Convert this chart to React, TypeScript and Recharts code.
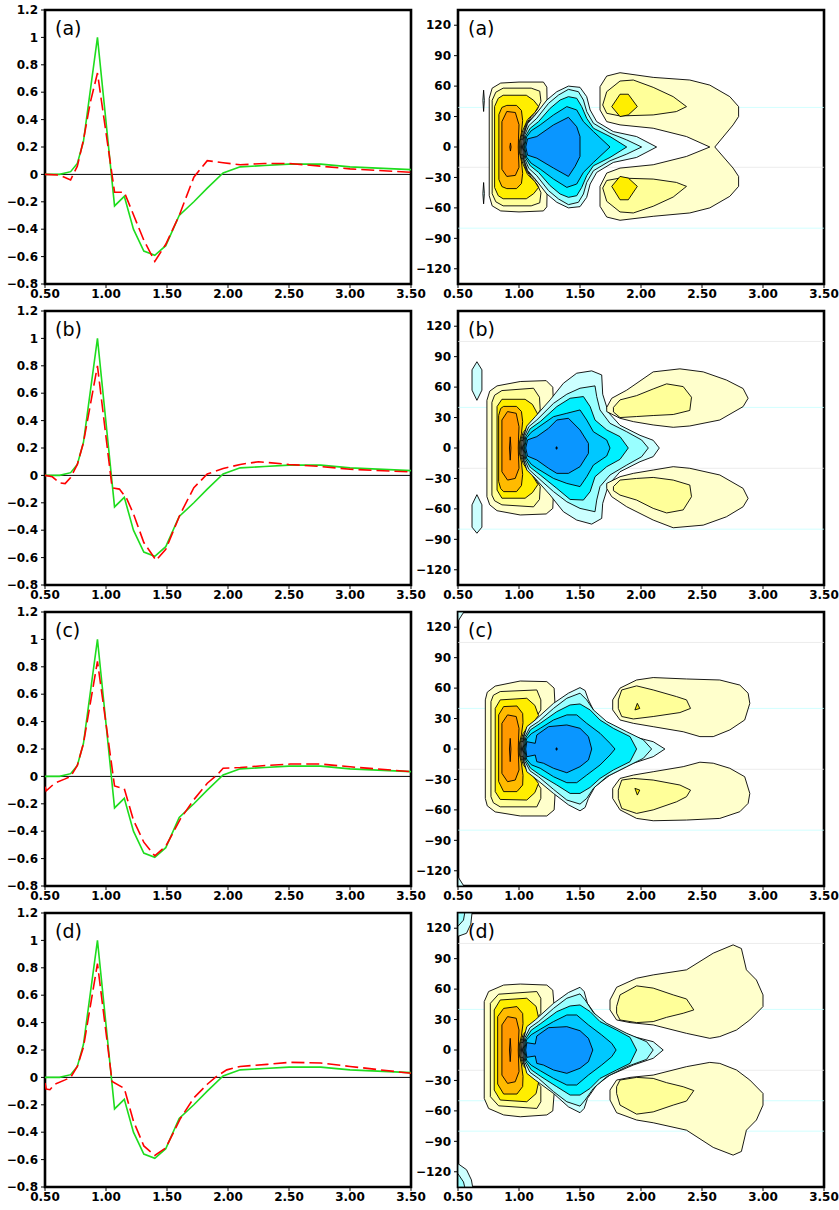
import React from 'react';
import { ComposedChart, Line, XAxis, YAxis, ReferenceLine, ReferenceArea } from 'recharts';

type P = [number, number];
type Shape = { level: number; pts: P[] };

// ---------- axes / labels ----------
const X_TICKS = [0.5, 1, 1.5, 2, 2.5, 3, 3.5];
const Y_TICKS_LINE = [-0.8, -0.6, -0.4, -0.2, 0, 0.2, 0.4, 0.6, 0.8, 1, 1.2];
const Y_TICKS_LAT = [-120, -90, -60, -30, 0, 30, 60, 90, 120];
const PANEL_LABELS = ['(a)', '(b)', '(c)', '(d)'];

// ---------- left column: line series ----------
const GREEN: P[] = [
  [0.5, 0], [0.62, 0], [0.71, 0.02], [0.765, 0.08], [0.815, 0.24], [0.93, 1.0], [1.07, -0.23],
  [1.15, -0.16], [1.225, -0.4], [1.31, -0.56], [1.4, -0.59], [1.49, -0.52], [1.6, -0.3], [1.72, -0.2],
  [1.83, -0.1], [1.96, 0.01], [2.1, 0.055], [2.3, 0.065], [2.5, 0.075], [2.76, 0.075], [3.0, 0.055], [3.5, 0.035],
];
const RED_A: P[] = [
  [0.5, 0], [0.62, -0.005], [0.71, -0.04], [0.765, 0.06], [0.815, 0.25], [0.87, 0.52], [0.93, 0.74],
  [1.07, -0.13], [1.15, -0.13], [1.31, -0.48], [1.4, -0.635], [1.49, -0.51], [1.6, -0.3], [1.72, -0.02],
  [1.83, 0.1], [1.96, 0.085], [2.1, 0.07], [2.3, 0.08], [2.5, 0.08], [2.76, 0.06], [3.0, 0.04], [3.5, 0.015],
];
const RED_B: P[] = [
  [0.5, 0], [0.56, -0.01], [0.62, -0.055], [0.665, -0.06], [0.71, -0.015], [0.765, 0.08], [0.815, 0.24],
  [0.93, 0.8], [1.05, -0.09], [1.11, -0.1], [1.17, -0.17], [1.225, -0.28], [1.31, -0.49], [1.41, -0.62],
  [1.49, -0.54], [1.61, -0.28], [1.72, -0.09], [1.83, 0.01], [1.96, 0.05], [2.1, 0.08], [2.25, 0.1],
  [2.5, 0.08], [2.76, 0.065], [3.0, 0.045], [3.5, 0.025],
];
const RED_C: P[] = [
  [0.5, -0.075], [0.51, -0.105], [0.58, -0.05], [0.66, -0.02], [0.71, 0.0], [0.765, 0.08], [0.815, 0.24],
  [0.93, 0.84], [1.07, -0.07], [1.15, -0.09], [1.225, -0.32], [1.31, -0.48], [1.4, -0.58], [1.49, -0.51],
  [1.61, -0.31], [1.72, -0.17], [1.83, -0.05], [1.91, 0.01], [1.96, 0.06], [2.1, 0.065], [2.32, 0.08],
  [2.51, 0.09], [2.76, 0.09], [3.0, 0.07], [3.5, 0.035],
];
const RED_D: P[] = [
  [0.5, -0.04], [0.51, -0.085], [0.54, -0.09], [0.58, -0.05], [0.66, -0.02], [0.71, 0.0], [0.765, 0.08],
  [0.815, 0.22], [0.93, 0.83], [1.05, -0.03], [1.15, -0.08], [1.225, -0.32], [1.31, -0.5], [1.4, -0.57],
  [1.49, -0.515], [1.61, -0.3], [1.72, -0.15], [1.83, -0.05], [1.91, 0.01], [1.99, 0.055], [2.1, 0.08],
  [2.32, 0.095], [2.51, 0.11], [2.76, 0.105], [3.0, 0.08], [3.5, 0.03],
];
const REDS = [RED_A, RED_B, RED_C, RED_D];

// ---------- right column: contour polygons (level: + warm, - cool) ----------
const CONTOUR_A: Shape[] = [
  { level: -1, pts: [[0.71, 56], [0.716, 46], [0.71, 35], [0.704, 46]] },
  { level: -1, pts: [[0.71, -35], [0.716, -46], [0.71, -56], [0.704, -46]] },
  { level: 1, pts: [[0.756, 48], [0.78, 58], [0.85, 63], [1.0, 64], [1.2, 64], [1.228, 59], [1.23, 46], [1.2, 40], [1.13, 32], [1.07, 24], [1.045, 15], [1.025, 6], [1.02, 0], [1.025, -6], [1.045, -15], [1.07, -24], [1.13, -32], [1.2, -40], [1.23, -46], [1.228, -59], [1.2, -63], [1.0, -64], [0.85, -63], [0.78, -58], [0.756, -48]] },
  { level: 2, pts: [[0.78, 46], [0.81, 54], [0.87, 58], [1.1, 58], [1.17, 55], [1.18, 45], [1.15, 37], [1.1, 30], [1.06, 23], [1.035, 14], [1.017, 6], [1.013, 0], [1.017, -6], [1.035, -14], [1.06, -23], [1.1, -30], [1.15, -37], [1.18, -45], [1.17, -55], [1.1, -58], [0.87, -58], [0.81, -54], [0.78, -46]] },
  { level: 3, pts: [[0.8, 40], [0.83, 48], [0.87, 51], [1.06, 51], [1.12, 46], [1.16, 40], [1.13, 34], [1.07, 27], [1.03, 16], [1.01, 6], [1.006, 0], [1.01, -6], [1.03, -16], [1.07, -27], [1.13, -34], [1.16, -40], [1.12, -46], [1.06, -51], [0.87, -51], [0.83, -48], [0.8, -40]] },
  { level: 4, pts: [[0.835, 32], [0.86, 39], [0.9, 41], [0.98, 41], [1.02, 36], [1.03, 26], [1.02, 14], [1.003, 5], [1.0, 0], [1.003, -5], [1.02, -14], [1.03, -26], [1.02, -36], [0.98, -41], [0.9, -41], [0.86, -39], [0.835, -32]] },
  { level: 5, pts: [[0.86, 25], [0.9, 35], [0.97, 34], [1.0, 22], [0.996, 8], [0.994, 0], [0.996, -8], [1.0, -20], [0.97, -28], [0.9, -29], [0.86, -22]] },
  { level: 6, pts: [[0.93, 4], [0.935, 0], [0.93, -4], [0.925, 0]] },
  { level: -1, pts: [[1.028, 0], [1.04, 12], [1.07, 23], [1.133, 31.6], [1.228, 46.3], [1.31, 54.5], [1.405, 60], [1.5, 58.8], [1.555, 49.6], [1.583, 36.5], [1.637, 25], [1.773, 15.2], [1.964, 10.3], [2.128, 0], [1.964, -10.3], [1.773, -15.2], [1.637, -25], [1.583, -36.5], [1.555, -49.6], [1.5, -58.8], [1.405, -60], [1.31, -54.5], [1.228, -46.3], [1.133, -31.6], [1.07, -23], [1.04, -12]] },
  { level: -2, pts: [[1.034, 0], [1.048, 12], [1.08, 21], [1.146, 28.3], [1.242, 43], [1.324, 51.2], [1.405, 56.8], [1.487, 54.5], [1.528, 46.3], [1.555, 34.9], [1.61, 23.4], [1.746, 13.6], [1.883, 7], [2.005, 0], [1.883, -7], [1.746, -13.6], [1.61, -23.4], [1.555, -34.9], [1.528, -46.3], [1.487, -54.5], [1.405, -56.8], [1.324, -51.2], [1.242, -43], [1.146, -28.3], [1.08, -21], [1.048, -12]] },
  { level: -3, pts: [[1.04, 0], [1.055, 11], [1.092, 18.5], [1.16, 25], [1.255, 38.1], [1.337, 46.3], [1.405, 49.6], [1.473, 48], [1.514, 39.8], [1.555, 28.3], [1.61, 18.5], [1.746, 10.3], [1.883, 0], [1.746, -10.3], [1.61, -18.5], [1.555, -28.3], [1.514, -39.8], [1.473, -48], [1.405, -49.6], [1.337, -46.3], [1.255, -38.1], [1.16, -25], [1.092, -18.5], [1.055, -11]] },
  { level: -4, pts: [[1.046, 0], [1.062, 10], [1.1, 16], [1.174, 21.8], [1.283, 31.6], [1.392, 39.8], [1.473, 36.5], [1.528, 25], [1.61, 15.2], [1.746, 0], [1.61, -15.2], [1.528, -25], [1.473, -36.5], [1.392, -39.8], [1.283, -31.6], [1.174, -21.8], [1.1, -16], [1.062, -10]] },
  { level: -5, pts: [[1.055, 0], [1.07, 8], [1.146, 10.3], [1.283, 21.8], [1.405, 29.3], [1.473, 20], [1.5, 10.3], [1.5, -9.3], [1.46, -19], [1.405, -29], [1.283, -20.8], [1.146, -11], [1.07, -8]] },
  { level: 1, pts: [[1.664, 36.5], [1.664, 59.4], [1.719, 69.9], [1.828, 73.2], [2.1, 68.6], [2.4, 66], [2.564, 61], [2.728, 49.6], [2.8, 39.8], [2.8, 30], [2.755, 21.8], [2.605, 0], [2.755, -20.8], [2.8, -29], [2.8, -38.8], [2.728, -48.6], [2.564, -60], [2.4, -65], [2.1, -68.3], [1.828, -72.2], [1.719, -69], [1.664, -58.4], [1.664, -38.8], [1.719, -25.7], [1.828, -20.8], [2.1, -17.5], [2.373, -9.3], [2.564, 0], [2.373, 10.3], [2.1, 18.5], [1.828, 21.8], [1.719, 25]] },
  { level: 2, pts: [[1.686, 41.4], [1.719, 54.5], [1.828, 65], [1.937, 66], [2.1, 58.8], [2.264, 49.6], [2.373, 39.8], [2.29, 34.9], [2.1, 31.6], [1.828, 30.6], [1.719, 33.2]] },
  { level: 2, pts: [[1.686, -40.4], [1.719, -53.5], [1.828, -64], [1.937, -65], [2.1, -58.4], [2.264, -49.3], [2.373, -38.8], [2.29, -34.9], [2.1, -31.6], [1.828, -30.6], [1.719, -33]] },
  { level: 3, pts: [[1.76, 39.8], [1.828, 52], [1.896, 52], [1.97, 39.8], [1.896, 31.6], [1.828, 30]] },
  { level: 3, pts: [[1.76, -38.8], [1.828, -52], [1.896, -52], [1.97, -38.8], [1.896, -30.6], [1.828, -29]] },
];

const CONTOUR_B: Shape[] = [
  { level: -1, pts: [[0.655, 85], [0.696, 77], [0.696, 57], [0.655, 47], [0.615, 57], [0.615, 77]] },
  { level: -1, pts: [[0.655, -46], [0.696, -56], [0.696, -78], [0.655, -84], [0.615, -78], [0.615, -56]] },
  { level: 1, pts: [[0.737, 47], [0.76, 56], [0.82, 61.2], [1.01, 65.5], [1.223, 66.4], [1.277, 59.9], [1.283, 40.8], [1.242, 30.9], [1.133, 24.3], [1.078, 19.4], [1.045, 13], [1.025, 6], [1.02, 0], [1.025, -6], [1.045, -13], [1.078, -20], [1.133, -25], [1.242, -31.6], [1.283, -41.4], [1.277, -59.5], [1.223, -65], [1.01, -66], [0.82, -61.8], [0.76, -56], [0.737, -48]] },
  { level: 2, pts: [[0.778, 45], [0.8, 52], [0.86, 56.6], [1.119, 58.9], [1.168, 50], [1.174, 37.5], [1.133, 29.3], [1.086, 22.7], [1.04, 14], [1.017, 6], [1.013, 0], [1.017, -6], [1.04, -14], [1.086, -23.4], [1.133, -30], [1.174, -38], [1.168, -50.7], [1.119, -58], [0.86, -56], [0.8, -52], [0.778, -46.4]] },
  { level: 3, pts: [[0.82, 40.8], [0.86, 48], [1.05, 48], [1.11, 43], [1.155, 33], [1.11, 26.5], [1.07, 21], [1.033, 15], [1.01, 6], [1.006, 0], [1.01, -6], [1.033, -15], [1.07, -21.7], [1.11, -27], [1.155, -36], [1.11, -44], [1.05, -49.5], [0.86, -49.5], [0.82, -41.4]] },
  { level: 4, pts: [[0.833, 32], [0.85, 39], [0.874, 41], [0.98, 41], [1.02, 36], [1.03, 26], [1.02, 14], [1.003, 5], [1.0, 0], [1.003, -5], [1.02, -14], [1.03, -26], [1.02, -37], [0.98, -43], [0.874, -43], [0.85, -40], [0.833, -33]] },
  { level: 5, pts: [[0.86, 27.6], [0.906, 35.9], [0.977, 34.2], [1.0, 21], [0.996, 8], [0.994, 0], [0.996, -8], [1.0, -20], [0.969, -30], [0.906, -31.6], [0.86, -23.4]] },
  { level: 6, pts: [[0.928, 11], [0.934, 0], [0.928, -12], [0.922, 0]] },
  { level: -1, pts: [[1.028, 0], [1.04, 12], [1.064, 21.7], [1.133, 30.9], [1.255, 47.4], [1.364, 63.8], [1.473, 73.7], [1.596, 76], [1.678, 72], [1.686, 53], [1.733, 35], [1.828, 22.4], [1.992, 12.5], [2.1, 7.6], [2.15, 0], [2.1, -8.5], [1.992, -13.5], [1.828, -23.4], [1.733, -36.5], [1.686, -54.6], [1.678, -69.4], [1.596, -75], [1.473, -71], [1.364, -62.8], [1.255, -46.4], [1.133, -30], [1.064, -21.7], [1.04, -12]] },
  { level: -2, pts: [[1.034, 0], [1.048, 12], [1.08, 21], [1.146, 27.6], [1.283, 44], [1.392, 53], [1.5, 58.9], [1.623, 61.2], [1.637, 50.7], [1.664, 37.5], [1.746, 24.3], [1.883, 16], [2.005, 7.9], [2.06, 0], [2.005, -8.6], [1.883, -16.8], [1.746, -26.6], [1.664, -38], [1.637, -51.3], [1.623, -62.8], [1.5, -59.5], [1.392, -53], [1.283, -43], [1.146, -28.3], [1.08, -21], [1.048, -12]] },
  { level: -3, pts: [[1.04, 0], [1.055, 11], [1.092, 19], [1.174, 26], [1.31, 40.8], [1.419, 49], [1.528, 50.7], [1.583, 40.8], [1.623, 27.6], [1.719, 17.8], [1.828, 11.2], [1.896, 0], [1.828, -11.2], [1.719, -18.4], [1.623, -28.3], [1.583, -43], [1.528, -51.3], [1.419, -50.7], [1.31, -39.8], [1.174, -26.6], [1.092, -19], [1.055, -11]] },
  { level: -4, pts: [[1.046, 0], [1.062, 10], [1.1, 15.5], [1.146, 19.4], [1.283, 30.9], [1.392, 34.2], [1.5, 37.5], [1.555, 27.6], [1.61, 16], [1.719, 7.9], [1.746, 0], [1.719, -7.9], [1.61, -16.8], [1.555, -28.3], [1.5, -38], [1.392, -34.9], [1.283, -30], [1.146, -20], [1.1, -16], [1.062, -10]] },
  { level: -5, pts: [[1.055, 0], [1.07, 8], [1.146, 11.2], [1.242, 19.4], [1.31, 27.6], [1.405, 29.3], [1.5, 17.8], [1.569, 4.6], [1.569, -5.3], [1.5, -18.4], [1.405, -25], [1.31, -25], [1.242, -20], [1.146, -11.8], [1.07, -8]] },
  { level: -9, pts: [[1.308, 1.3], [1.314, 0], [1.308, -1.3], [1.302, 0]] },
  { level: 1, pts: [[1.719, 40], [1.76, 49], [1.883, 57], [2.1, 75], [2.319, 78], [2.51, 75], [2.7, 67], [2.837, 58.6], [2.878, 49], [2.837, 40.8], [2.646, 27.6], [2.4, 21.7], [2.264, 20.4], [2.1, 22.7], [1.937, 26], [1.828, 29.3], [1.719, 35.9]] },
  { level: 1, pts: [[1.719, -39.8], [1.76, -48], [1.883, -57.9], [2.1, -71], [2.264, -78.6], [2.51, -76], [2.7, -67.8], [2.837, -57.9], [2.878, -49.7], [2.837, -39.8], [2.646, -26.6], [2.4, -20], [2.264, -18.4], [2.1, -21.7], [1.937, -25], [1.828, -28.3], [1.719, -34.9]] },
  { level: 2, pts: [[1.774, 40], [1.828, 47.4], [1.964, 51.6], [2.1, 58.2], [2.21, 63.2], [2.346, 60.5], [2.414, 50], [2.4, 37], [2.264, 33], [2.1, 32], [1.964, 31], [1.828, 30], [1.774, 35.5]] },
  { level: 2, pts: [[1.774, -38], [1.828, -31.6], [1.964, -30], [2.1, -29], [2.264, -31.6], [2.4, -36.5], [2.414, -48], [2.346, -61], [2.21, -64], [2.1, -59.5], [1.964, -51.3], [1.828, -46.4], [1.774, -42]] },
];

const CONTOUR_C: Shape[] = [
  { level: -1, pts: [[0.5, 135], [0.548, 135], [0.5, 126]] },
  { level: -1, pts: [[0.5, -126], [0.548, -135], [0.5, -135]] },
  { level: 1, pts: [[0.724, 48.4], [0.74, 56], [0.805, 62], [1.01, 67], [1.228, 66.4], [1.288, 60], [1.296, 41.8], [1.255, 32.6], [1.146, 25.3], [1.078, 20.4], [1.045, 13], [1.025, 6], [1.02, 0], [1.025, -6], [1.045, -13], [1.078, -20.7], [1.146, -25.7], [1.255, -33.9], [1.296, -43.8], [1.288, -60], [1.228, -66], [1.01, -66], [0.805, -62], [0.74, -56], [0.724, -48.7]] },
  { level: 2, pts: [[0.77, 46.7], [0.79, 53], [0.846, 56.6], [1.146, 58.2], [1.179, 48.4], [1.179, 38.5], [1.133, 30.3], [1.078, 22.7], [1.04, 14], [1.017, 6], [1.013, 0], [1.017, -6], [1.04, -14], [1.078, -22.4], [1.133, -30.6], [1.179, -38.8], [1.179, -48.7], [1.146, -57], [0.846, -57], [0.79, -53], [0.77, -47]] },
  { level: 3, pts: [[0.805, 40], [0.846, 48.4], [1.064, 50], [1.13, 43], [1.16, 33], [1.115, 26], [1.07, 21.4], [1.033, 15], [1.01, 6], [1.006, 0], [1.01, -6], [1.033, -15], [1.07, -21.4], [1.115, -26.6], [1.16, -34], [1.13, -43], [1.064, -50.3], [0.846, -49.7], [0.805, -42]] },
  { level: 4, pts: [[0.833, 33.6], [0.874, 41.8], [0.983, 42.4], [1.03, 35], [1.033, 26], [1.02, 14], [1.003, 5], [1.0, 0], [1.003, -5], [1.02, -14], [1.033, -26], [1.03, -35.5], [0.983, -42], [0.874, -42], [0.833, -32]] },
  { level: 5, pts: [[0.86, 25.3], [0.906, 33.6], [0.977, 32], [1.0, 20.4], [0.996, 8], [0.994, 0], [0.996, -8], [1.0, -20.7], [0.969, -30.6], [0.906, -32.2], [0.86, -24]] },
  { level: 6, pts: [[0.928, 10.5], [0.934, 0], [0.928, -12.5], [0.922, 0]] },
  { level: -1, pts: [[1.028, 0], [1.04, 12], [1.064, 22], [1.133, 28.6], [1.283, 45], [1.405, 55], [1.5, 60.5], [1.542, 57.6], [1.569, 48.4], [1.623, 35.2], [1.746, 22], [1.937, 12.2], [2.1, 7.2], [2.196, 0], [2.1, -7.6], [1.937, -14], [1.746, -25.7], [1.623, -37], [1.569, -48.7], [1.542, -57.6], [1.5, -60.9], [1.405, -55], [1.283, -43.8], [1.133, -28.9], [1.064, -22.4], [1.04, -12]] },
  { level: -2, pts: [[1.034, 0], [1.048, 12], [1.09, 21.5], [1.16, 27], [1.283, 40], [1.392, 50], [1.5, 55], [1.555, 48.4], [1.61, 38.5], [1.719, 27], [1.883, 17], [2.019, 9], [2.087, 0], [2.019, -9.2], [1.883, -17.4], [1.719, -27.3], [1.61, -38.8], [1.555, -48.7], [1.5, -54.3], [1.392, -50.3], [1.283, -39.8], [1.16, -27.3], [1.09, -21.5], [1.048, -12]] },
  { level: -3, pts: [[1.04, 0], [1.055, 11], [1.095, 19], [1.174, 25.3], [1.31, 36.8], [1.419, 43.4], [1.5, 44.4], [1.583, 38.5], [1.664, 28.6], [1.773, 20.4], [1.91, 12.2], [1.964, 0], [1.91, -12.5], [1.773, -20.7], [1.664, -29], [1.583, -37.8], [1.5, -43.8], [1.419, -43.8], [1.31, -35.5], [1.174, -25.7], [1.095, -19], [1.055, -11]] },
  { level: -4, pts: [[1.046, 0], [1.062, 10], [1.1, 15], [1.174, 20.4], [1.283, 28.6], [1.392, 33.6], [1.473, 33.6], [1.555, 25.3], [1.664, 15.5], [1.746, 5.6], [1.787, 0], [1.746, -5.9], [1.664, -15.8], [1.555, -25.7], [1.473, -33.2], [1.392, -33.2], [1.283, -27.3], [1.174, -19], [1.1, -15.5], [1.062, -10]] },
  { level: -5, pts: [[1.055, 0], [1.064, 7.2], [1.133, 5.6], [1.146, 13.8], [1.242, 22], [1.392, 23.7], [1.5, 20.4], [1.569, 12.2], [1.596, 0], [1.569, -10.9], [1.5, -17.4], [1.392, -23.4], [1.283, -19], [1.2, -14], [1.146, -12.5], [1.133, -5.9], [1.064, -7.6]] },
  { level: -9, pts: [[1.308, 1.3], [1.314, 0], [1.308, -1.3], [1.302, 0]] },
  { level: 1, pts: [[1.768, 48.4], [1.828, 60], [1.964, 68], [2.1, 70.4], [2.373, 69], [2.646, 68], [2.81, 63], [2.878, 55], [2.892, 45], [2.85, 28.6], [2.728, 18.8], [2.592, 12.2], [2.483, 12.2], [2.346, 17], [2.1, 22], [1.937, 25.3], [1.828, 28.6], [1.768, 38.5]] },
  { level: 1, pts: [[1.768, -48.7], [1.828, -60], [1.964, -68.4], [2.1, -70.7], [2.373, -70], [2.646, -68.4], [2.81, -61.8], [2.878, -53.6], [2.892, -43.8], [2.85, -27.3], [2.728, -19], [2.592, -14], [2.483, -13], [2.346, -17.4], [2.1, -22.4], [1.937, -25.7], [1.828, -29], [1.768, -38.8]] },
  { level: 2, pts: [[1.814, 48.4], [1.842, 58.2], [1.964, 62.2], [2.1, 58.2], [2.292, 51.6], [2.373, 48.4], [2.406, 40], [2.319, 35.9], [2.1, 32], [1.937, 29.6], [1.842, 32], [1.814, 40]] },
  { level: 2, pts: [[1.814, -48.7], [1.842, -58.6], [1.964, -63.5], [2.1, -60], [2.292, -52], [2.373, -47], [2.406, -40.5], [2.319, -35.5], [2.1, -30.6], [1.937, -29], [1.842, -30.6], [1.814, -40.5]] },
  { level: 3, pts: [[1.95, 38.5], [1.97, 45], [1.99, 40]] },
  { level: 3, pts: [[1.95, -38.8], [1.97, -45.4], [1.99, -40.5]] },
];

const CONTOUR_D: Shape[] = [
  { level: -1, pts: [[0.5, 135], [0.615, 135], [0.605, 124], [0.57, 115], [0.5, 112]] },
  { level: -2, pts: [[0.5, 135], [0.555, 135], [0.545, 128], [0.5, 122]] },
  { level: -1, pts: [[0.5, -112], [0.57, -118], [0.61, -128], [0.62, -135], [0.5, -135]] },
  { level: -2, pts: [[0.5, -122], [0.545, -130], [0.555, -135], [0.5, -135]] },
  { level: 1, pts: [[0.715, 47.7], [0.751, 57.6], [0.874, 64], [1.01, 65], [1.228, 64], [1.277, 59], [1.288, 42.8], [1.255, 31.3], [1.146, 25.7], [1.078, 21.4], [1.045, 13], [1.025, 6], [1.02, 0], [1.025, -6], [1.045, -13], [1.078, -21.4], [1.146, -26.3], [1.255, -32.9], [1.288, -42.8], [1.277, -60], [1.228, -64], [1.01, -65.8], [0.874, -64], [0.751, -57.6], [0.715, -47.7]] },
  { level: 2, pts: [[0.765, 46], [0.833, 55], [1.146, 57.6], [1.179, 51], [1.179, 36], [1.133, 29.6], [1.078, 23], [1.04, 14], [1.017, 6], [1.013, 0], [1.017, -6], [1.04, -14], [1.078, -23], [1.133, -29.6], [1.179, -36], [1.179, -51], [1.146, -57.6], [0.833, -55], [0.765, -46]] },
  { level: 3, pts: [[0.797, 39.5], [0.846, 49.3], [1.064, 51], [1.14, 43], [1.16, 32], [1.115, 25.7], [1.07, 20.4], [1.033, 15], [1.01, 6], [1.006, 0], [1.01, -6], [1.033, -15], [1.07, -20.4], [1.115, -25.7], [1.16, -32], [1.14, -43], [1.064, -51], [0.846, -49.3], [0.797, -39.5]] },
  { level: 4, pts: [[0.825, 32.9], [0.874, 41], [0.983, 42.8], [1.03, 36], [1.033, 26], [1.02, 14], [1.003, 5], [1.0, 0], [1.003, -5], [1.02, -14], [1.033, -26], [1.03, -36], [0.983, -43.4], [0.874, -43.4], [0.825, -33.5]] },
  { level: 5, pts: [[0.86, 24.7], [0.906, 32.9], [0.977, 31.3], [1.0, 19.7], [0.996, 8], [0.994, 0], [0.996, -8], [1.0, -21.4], [0.969, -31.3], [0.906, -32.9], [0.86, -24.7]] },
  { level: 6, pts: [[0.928, 11.5], [0.934, 0], [0.928, -11.5], [0.922, 0]] },
  { level: -1, pts: [[1.028, 0], [1.04, 12], [1.064, 23], [1.133, 29.6], [1.283, 46], [1.405, 56.6], [1.5, 61.8], [1.534, 57.6], [1.561, 46], [1.637, 32.9], [1.746, 23], [1.937, 13.2], [2.1, 8.2], [2.182, 0], [2.1, -8.2], [1.937, -14.8], [1.746, -24.7], [1.637, -34.5], [1.561, -47.7], [1.534, -57.6], [1.5, -61.8], [1.405, -56], [1.283, -42.8], [1.133, -29.6], [1.064, -23], [1.04, -12]] },
  { level: -2, pts: [[1.034, 0], [1.048, 12], [1.09, 22], [1.16, 28], [1.283, 41], [1.392, 51], [1.5, 55.3], [1.542, 49.3], [1.61, 36.8], [1.719, 26.3], [1.883, 16.4], [2.046, 8.2], [2.1, 0], [2.046, -9.2], [1.883, -16.4], [1.719, -26.3], [1.61, -37.8], [1.542, -49.3], [1.5, -55.3], [1.392, -51], [1.283, -41], [1.16, -28], [1.09, -22], [1.048, -12]] },
  { level: -3, pts: [[1.04, 0], [1.055, 11], [1.1, 19.5], [1.174, 25.7], [1.31, 37.8], [1.419, 43.4], [1.5, 44.4], [1.583, 37.8], [1.664, 28], [1.8, 19.7], [1.91, 12.5], [1.964, 0], [1.91, -13.2], [1.8, -19.7], [1.664, -28], [1.583, -37.8], [1.5, -44.4], [1.419, -44.4], [1.31, -36.2], [1.174, -25.7], [1.1, -19.5], [1.055, -11]] },
  { level: -4, pts: [[1.046, 0], [1.062, 10], [1.1, 15], [1.174, 20.4], [1.283, 28], [1.392, 34.5], [1.473, 34.5], [1.569, 24.7], [1.678, 14.8], [1.76, 6.6], [1.796, 0], [1.76, -6.6], [1.678, -14.8], [1.569, -24.7], [1.473, -34.5], [1.392, -34.5], [1.283, -28], [1.174, -20.4], [1.1, -15], [1.062, -10]] },
  { level: -5, pts: [[1.055, 0], [1.064, 7.2], [1.133, 5.9], [1.146, 13.8], [1.242, 22], [1.392, 23], [1.5, 19], [1.569, 11.5], [1.605, 0], [1.569, -11.5], [1.5, -18], [1.392, -23], [1.283, -19.7], [1.2, -14.8], [1.146, -13.2], [1.133, -5.9], [1.064, -7.2]] },
  { level: 1, pts: [[1.746, 49.3], [1.8, 61.8], [1.964, 70.7], [2.1, 74], [2.373, 79], [2.592, 95.4], [2.755, 103.6], [2.823, 100], [2.864, 79], [2.946, 69], [3.0, 54.3], [3.0, 42.8], [2.892, 29.6], [2.783, 19.7], [2.646, 13.2], [2.564, 11.5], [2.373, 16.4], [2.1, 24.7], [1.91, 27], [1.8, 29.6], [1.746, 39.5]] },
  { level: 1, pts: [[1.746, -49.3], [1.8, -61.8], [1.964, -69], [2.1, -71.7], [2.373, -79], [2.592, -96], [2.755, -103.6], [2.823, -100], [2.864, -79], [2.946, -69], [3.0, -54.3], [3.0, -42.8], [2.892, -29.6], [2.783, -19.7], [2.646, -13.2], [2.564, -12.2], [2.373, -16.4], [2.1, -24.7], [1.91, -27], [1.8, -29.6], [1.746, -39.5]] },
  { level: 2, pts: [[1.8, 42.8], [1.828, 54.3], [1.964, 63.2], [2.1, 61], [2.264, 54.3], [2.373, 50.3], [2.433, 39.5], [2.346, 36.2], [2.21, 32.2], [2.1, 28], [1.964, 27], [1.828, 29.6], [1.8, 36.2]] },
  { level: 2, pts: [[1.8, -42.8], [1.828, -54.3], [1.964, -63.2], [2.1, -61], [2.264, -54.3], [2.373, -50.3], [2.433, -40], [2.346, -36.2], [2.21, -32.2], [2.1, -28], [1.964, -27], [1.828, -29.6], [1.8, -36.2]] },
];
const CONTOURS = [CONTOUR_A, CONTOUR_B, CONTOUR_C, CONTOUR_D];

// faint horizontal streaks visible in the right panels (y, tone)
const STREAKS: [number, string][][] = [
  [[39, 'c'], [-20, 'g'], [-80, 'c']],
  [[40, 'c'], [-20, 'g'], [-80, 'c'], [105, 'g']],
  [[40, 'c'], [-20, 'g'], [-80, 'c'], [105, 'g']],
  [[40, 'c'], [-20, 'g'], [-50, 'c'], [-80, 'c'], [105, 'g']],
];

// ---------- styles ----------
const LEVEL_COLORS: Record<string, string> = {
  '1': '#FFFFCC', '2': '#FFFF99', '3': '#FFEE00', '4': '#FFBB00', '5': '#FF9900', '6': '#FF7F00',
  '-1': '#CCFFFF', '-2': '#99FFFF', '-3': '#00F0FF', '-4': '#00C8FF', '-5': '#0A96FF', '-9': '#000000',
};
const ROW_TOPS = [0, 301, 602, 903];
const TICK = { fontFamily: 'DejaVu Sans', fontWeight: 'bold', fontSize: 12, fill: '#000' } as any;
const LABEL_STYLE: React.CSSProperties = {
  position: 'absolute', fontFamily: 'DejaVu Sans', fontSize: 19, lineHeight: '19px', color: '#000', top: 19,
};

const toXY = (pts: P[]) => pts.map(([x, y]) => ({ x, y }));
const closed = (pts: P[]) => toXY([...pts, pts[0]]);
const fmtX = (v: number) => v.toFixed(2);
const fmtYL = (v: number) => (v < 0 ? '\u2212' : '') + String(Math.round(Math.abs(v) * 10) / 10);
const fmtYR = (v: number) => (v < 0 ? '\u2212' : '') + String(Math.abs(v));

const polygonDot = (fill: string) => (props: any) => {
  const { index, points } = props;
  if (index !== 0 || !points || !points.length) return <g key={`e${index}`} />;
  const d = points.map((p: any, i: number) => `${i ? 'L' : 'M'}${p.x},${p.y}`).join('') + 'Z';
  return <path key="poly" d={d} fill={fill} stroke="#000" strokeWidth={0.9} strokeLinejoin="round" />;
};

function LinePanel({ idx }: { idx: number }) {
  return (
    <div style={{ position: 'absolute', left: 0, top: ROW_TOPS[idx], width: 430, height: 300 }}>
      <ComposedChart width={430} height={300} margin={{ top: 10, right: 19, bottom: 0, left: 0 }}>
        <XAxis type="number" dataKey="x" domain={[0.5, 3.5]} ticks={X_TICKS} interval={0} tickFormatter={fmtX}
          tick={TICK} tickSize={4} tickMargin={1} axisLine={false} tickLine={{ stroke: '#000' }} height={16} allowDataOverflow />
        <YAxis type="number" domain={[-0.8, 1.2]} ticks={Y_TICKS_LINE} interval={0} tickFormatter={fmtYL}
          tick={TICK} tickSize={4} tickMargin={3} axisLine={false} tickLine={{ stroke: '#000' }} width={45} allowDataOverflow />
        <ReferenceLine y={0} stroke="#000" strokeWidth={1} />
        <Line data={toXY(GREEN)} dataKey="y" stroke="#1EDC1E" strokeWidth={1.6} dot={false} activeDot={false} isAnimationActive={false} />
        <Line data={toXY(REDS[idx])} dataKey="y" stroke="#FF0000" strokeWidth={1.6} strokeDasharray="13 5" dot={false} activeDot={false} isAnimationActive={false} />
        <ReferenceArea x1={0.5} x2={3.5} y1={-0.8} y2={1.2} fill="none" fillOpacity={0} stroke="#000" strokeWidth={2.6} />
      </ComposedChart>
      <div style={{ ...LABEL_STYLE, left: 55 }}>{PANEL_LABELS[idx]}</div>
    </div>
  );
}

function ContourPanel({ idx }: { idx: number }) {
  return (
    <div style={{ position: 'absolute', left: 408, top: ROW_TOPS[idx], width: 431, height: 300 }}>
      <ComposedChart width={431} height={300} margin={{ top: 10, right: 15, bottom: 0, left: 0 }}>
        <XAxis type="number" dataKey="x" domain={[0.5, 3.5]} ticks={X_TICKS} interval={0} tickFormatter={fmtX}
          tick={TICK} tickSize={4} tickMargin={1} axisLine={false} tickLine={{ stroke: '#000' }} height={16} allowDataOverflow />
        <YAxis type="number" domain={[-135, 135]} ticks={Y_TICKS_LAT} interval={0} tickFormatter={fmtYR}
          tick={TICK} tickSize={4} tickMargin={3} axisLine={false} tickLine={{ stroke: '#000' }} width={50} allowDataOverflow />
        {CONTOURS[idx].map((s, i) => (
          <Line key={`c${i}`} data={closed(s.pts)} dataKey="y" stroke="none" legendType="none"
            dot={polygonDot(LEVEL_COLORS[String(s.level)])} activeDot={false} isAnimationActive={false} />
        ))}
        {STREAKS[idx].map(([y, t], i) => (
          <ReferenceLine key={`s${i}`} y={y} stroke={t === 'c' ? '#BFFFFF' : '#E4E4E4'} strokeWidth={1} strokeOpacity={0.7} />
        ))}
        <ReferenceArea x1={0.5} x2={3.5} y1={-135} y2={135} fill="none" fillOpacity={0} stroke="#000" strokeWidth={2.6} />
      </ComposedChart>
      <div style={{ ...LABEL_STYLE, left: 60 }}>{PANEL_LABELS[idx]}</div>
    </div>
  );
}

export default function App() {
  return (
    <div style={{ position: 'absolute', left: 0, top: 0, width: 839, height: 1210, background: '#fff' }}>
      {[0, 1, 2, 3].map((i) => (
        <React.Fragment key={i}>
          <LinePanel idx={i} />
          <ContourPanel idx={i} />
        </React.Fragment>
      ))}
    </div>
  );
}
